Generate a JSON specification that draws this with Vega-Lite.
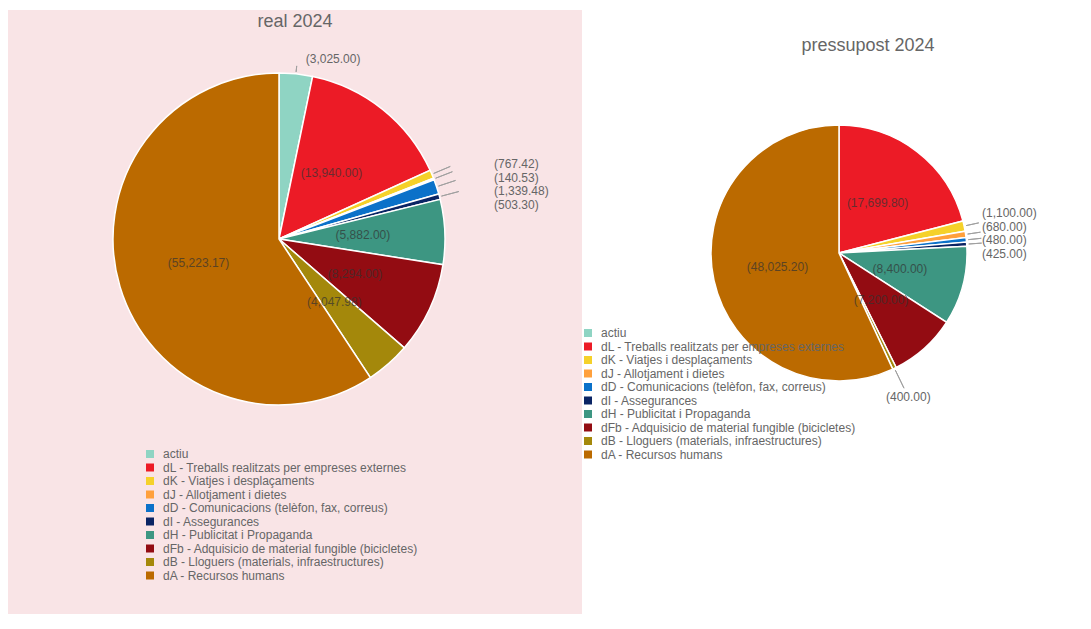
{
  "$schema": "https://vega.github.io/schema/vega-lite/v6.json",
  "padding": {"left": 8, "top": 10, "right": 0, "bottom": 0},
  "spacing": 0,
  "background": "white",
  "config": {
    "view": {"stroke": null},
    "font": "Liberation Sans",
    "title": {"fontSize": 18, "fontWeight": "normal", "color": "#666666", "font": "Liberation Sans", "anchor": "middle"},
    "legend": {
      "symbolType": "square", "symbolSize": 64, "symbolStrokeWidth": 0,
      "labelFontSize": 12, "labelColor": "#666666", "labelFont": "Liberation Sans",
      "rowPadding": 1.5, "padding": 0, "labelOffset": 7, "labelLimit": 400
    }
  },
  "datasets": {
    "real": [
      {"cat": "actiu", "value": 3025.00},
      {"cat": "dL - Treballs realitzats per empreses externes", "value": 13940.00},
      {"cat": "dK - Viatjes i desplaçaments", "value": 767.42},
      {"cat": "dJ - Allotjament i dietes", "value": 140.53},
      {"cat": "dD - Comunicacions (telèfon, fax, correus)", "value": 1339.48},
      {"cat": "dI - Assegurances", "value": 503.30},
      {"cat": "dH - Publicitat i Propaganda", "value": 5882.00},
      {"cat": "dFb - Adquisicio de material fungible (bicicletes)", "value": 8294.00},
      {"cat": "dB - Lloguers (materials, infraestructures)", "value": 4047.98},
      {"cat": "dA - Recursos humans", "value": 55223.17}
    ],
    "pres": [
      {"cat": "actiu", "value": 0},
      {"cat": "dL - Treballs realitzats per empreses externes", "value": 17699.80},
      {"cat": "dK - Viatjes i desplaçaments", "value": 1100.00},
      {"cat": "dJ - Allotjament i dietes", "value": 680.00},
      {"cat": "dD - Comunicacions (telèfon, fax, correus)", "value": 480.00},
      {"cat": "dI - Assegurances", "value": 425.00},
      {"cat": "dH - Publicitat i Propaganda", "value": 8400.00},
      {"cat": "dFb - Adquisicio de material fungible (bicicletes)", "value": 7200.00},
      {"cat": "dB - Lloguers (materials, infraestructures)", "value": 400.00},
      {"cat": "dA - Recursos humans", "value": 48025.20}
    ]
  },
  "resolve": {"legend": {"color": "independent"}},
  "hconcat": [
    {
      "width": 574,
      "height": 604,
      "view": {"fill": "#f9e4e6", "stroke": null},
      "title": {"text": "real 2024", "offset": -21},
      "data": {"name": "real"},
      "transform": [
        {"calculate": "'(' + format(datum.value, ',.2f') + ')'", "as": "label"},
        {"window": [{"op": "row_number", "as": "n"}]}
      ],
      "layer": [
        {
          "mark": {"type": "arc", "x": 271, "y": 229, "outerRadius": 166, "stroke": "white", "strokeWidth": 1.5},
          "encoding": {
            "theta": {"field": "value", "type": "quantitative", "stack": true},
            "order": {"field": "n", "type": "quantitative"},
            "color": {
              "field": "cat", "type": "nominal",
              "scale": {
                "domain": ["actiu", "dL - Treballs realitzats per empreses externes", "dK - Viatjes i desplaçaments", "dJ - Allotjament i dietes", "dD - Comunicacions (telèfon, fax, correus)", "dI - Assegurances", "dH - Publicitat i Propaganda", "dFb - Adquisicio de material fungible (bicicletes)", "dB - Lloguers (materials, infraestructures)", "dA - Recursos humans"],
                "range": ["#8fd4c3", "#ec1b26", "#f5d12a", "#ffa03c", "#0b71c9", "#0a2464", "#3d9682", "#930c12", "#a4880b", "#bb6a00"]
              },
              "legend": {"orient": "none", "direction": "vertical", "legendX": 136, "legendY": 438, "title": null}
            }
          }
        },
        {
          "mark": {"type": "arc", "x": 271, "y": 229, "innerRadius": 168, "outerRadius": 186, "padAngle": 1, "fill": "transparent", "stroke": "#a0a0a0", "strokeWidth": 1},
          "encoding": {
            "theta": {"field": "value", "type": "quantitative", "stack": true},
            "order": {"field": "n", "type": "quantitative"},
            "detail": {"field": "cat", "type": "nominal"},
            "strokeOpacity": {"condition": {"test": "datum.value < 2000", "value": 1}, "value": 0}
          }
        },
        {
          "mark": {"type": "arc", "x": 271, "y": 229, "innerRadius": 168, "outerRadius": 174, "padAngle": 1, "fill": "transparent", "stroke": "#a0a0a0", "strokeWidth": 1},
          "encoding": {
            "theta": {"field": "value", "type": "quantitative", "stack": true},
            "order": {"field": "n", "type": "quantitative"},
            "detail": {"field": "cat", "type": "nominal"},
            "strokeOpacity": {"condition": {"test": "datum.cat == 'actiu'", "value": 1}, "value": 0}
          }
        },
        {
          "mark": {"type": "text", "x": 271, "y": 229, "radius": 84, "fontSize": 12},
          "encoding": {
            "theta": {"field": "value", "type": "quantitative", "stack": true},
            "order": {"field": "n", "type": "quantitative"},
            "detail": {"field": "cat", "type": "nominal"},
            "fill": {"value": "#333333"},
            "text": {"field": "label"},
            "opacity": {"condition": {"test": "datum.value > 3500", "value": 0.7}, "value": 0}
          }
        },
        {
          "mark": {"type": "text", "x": 271, "y": 229, "radius": 174, "align": "left", "dx": 9, "dy": -7, "fontSize": 12},
          "encoding": {
            "theta": {"field": "value", "type": "quantitative", "stack": true},
            "order": {"field": "n", "type": "quantitative"},
            "detail": {"field": "cat", "type": "nominal"},
            "fill": {"value": "#666666"},
            "text": {"field": "label"},
            "opacity": {"condition": {"test": "datum.cat == 'actiu'", "value": 1}, "value": 0}
          }
        },
        {
          "transform": [{"filter": {"field": "cat", "oneOf": ["dK - Viatjes i desplaçaments", "dJ - Allotjament i dietes", "dD - Comunicacions (telèfon, fax, correus)", "dI - Assegurances"]}}],
          "mark": {"type": "text", "x": 486, "align": "left", "fontSize": 12, "fill": "#666666"},
          "encoding": {
            "y": {
              "field": "cat", "type": "nominal",
              "sort": ["dK - Viatjes i desplaçaments", "dJ - Allotjament i dietes", "dD - Comunicacions (telèfon, fax, correus)", "dI - Assegurances"],
              "scale": {"type": "point", "range": [154, 195], "padding": 0},
              "axis": null
            },
            "text": {"field": "label"}
          }
        }
      ]
    },
    {
      "width": 500,
      "height": 604,
      "view": {"stroke": null},
      "title": {"text": "pressupost 2024", "offset": -45, "dx": 36},
      "data": {"name": "pres"},
      "transform": [
        {"calculate": "'(' + format(datum.value, ',.2f') + ')'", "as": "label"},
        {"window": [{"op": "row_number", "as": "n"}]}
      ],
      "layer": [
        {
          "mark": {"type": "arc", "x": 257, "y": 243, "outerRadius": 128, "stroke": "white", "strokeWidth": 1.5},
          "encoding": {
            "theta": {"field": "value", "type": "quantitative", "stack": true},
            "order": {"field": "n", "type": "quantitative"},
            "color": {
              "field": "cat", "type": "nominal",
              "scale": {
                "domain": ["actiu", "dL - Treballs realitzats per empreses externes", "dK - Viatjes i desplaçaments", "dJ - Allotjament i dietes", "dD - Comunicacions (telèfon, fax, correus)", "dI - Assegurances", "dH - Publicitat i Propaganda", "dFb - Adquisicio de material fungible (bicicletes)", "dB - Lloguers (materials, infraestructures)", "dA - Recursos humans"],
                "range": ["#8fd4c3", "#ec1b26", "#f5d12a", "#ffa03c", "#0b71c9", "#0a2464", "#3d9682", "#930c12", "#a4880b", "#bb6a00"]
              },
              "legend": {"orient": "none", "direction": "vertical", "legendX": 0, "legendY": 317, "title": null}
            }
          }
        },
        {
          "mark": {"type": "arc", "x": 257, "y": 243, "innerRadius": 130, "outerRadius": 143, "padAngle": 1, "fill": "transparent", "stroke": "#a0a0a0", "strokeWidth": 1},
          "encoding": {
            "theta": {"field": "value", "type": "quantitative", "stack": true},
            "order": {"field": "n", "type": "quantitative"},
            "detail": {"field": "cat", "type": "nominal"},
            "strokeOpacity": {"condition": {"test": "datum.value > 0 && datum.value < 2000 && datum.cat != 'dB - Lloguers (materials, infraestructures)'", "value": 1}, "value": 0}
          }
        },
        {
          "mark": {"type": "arc", "x": 257, "y": 243, "innerRadius": 130, "outerRadius": 150, "padAngle": 1, "fill": "transparent", "stroke": "#a0a0a0", "strokeWidth": 1},
          "encoding": {
            "theta": {"field": "value", "type": "quantitative", "stack": true},
            "order": {"field": "n", "type": "quantitative"},
            "detail": {"field": "cat", "type": "nominal"},
            "strokeOpacity": {"condition": {"test": "datum.cat == 'dB - Lloguers (materials, infraestructures)'", "value": 1}, "value": 0}
          }
        },
        {
          "mark": {"type": "text", "x": 257, "y": 243, "radius": 63, "fontSize": 12},
          "encoding": {
            "theta": {"field": "value", "type": "quantitative", "stack": true},
            "order": {"field": "n", "type": "quantitative"},
            "detail": {"field": "cat", "type": "nominal"},
            "fill": {"value": "#333333"},
            "text": {"field": "label"},
            "opacity": {"condition": {"test": "datum.value > 3500", "value": 0.7}, "value": 0}
          }
        },
        {
          "mark": {"type": "text", "x": 257, "y": 243, "radius": 160, "align": "center", "fontSize": 12},
          "encoding": {
            "theta": {"field": "value", "type": "quantitative", "stack": true},
            "order": {"field": "n", "type": "quantitative"},
            "detail": {"field": "cat", "type": "nominal"},
            "fill": {"value": "#666666"},
            "text": {"field": "label"},
            "opacity": {"condition": {"test": "datum.cat == 'dB - Lloguers (materials, infraestructures)'", "value": 1}, "value": 0}
          }
        },
        {
          "transform": [{"filter": {"field": "cat", "oneOf": ["dK - Viatjes i desplaçaments", "dJ - Allotjament i dietes", "dD - Comunicacions (telèfon, fax, correus)", "dI - Assegurances"]}}],
          "mark": {"type": "text", "x": 400, "align": "left", "fontSize": 12, "fill": "#666666"},
          "encoding": {
            "y": {
              "field": "cat", "type": "nominal",
              "sort": ["dK - Viatjes i desplaçaments", "dJ - Allotjament i dietes", "dD - Comunicacions (telèfon, fax, correus)", "dI - Assegurances"],
              "scale": {"type": "point", "range": [203, 244], "padding": 0},
              "axis": null
            },
            "text": {"field": "label"}
          }
        }
      ]
    }
  ]
}
